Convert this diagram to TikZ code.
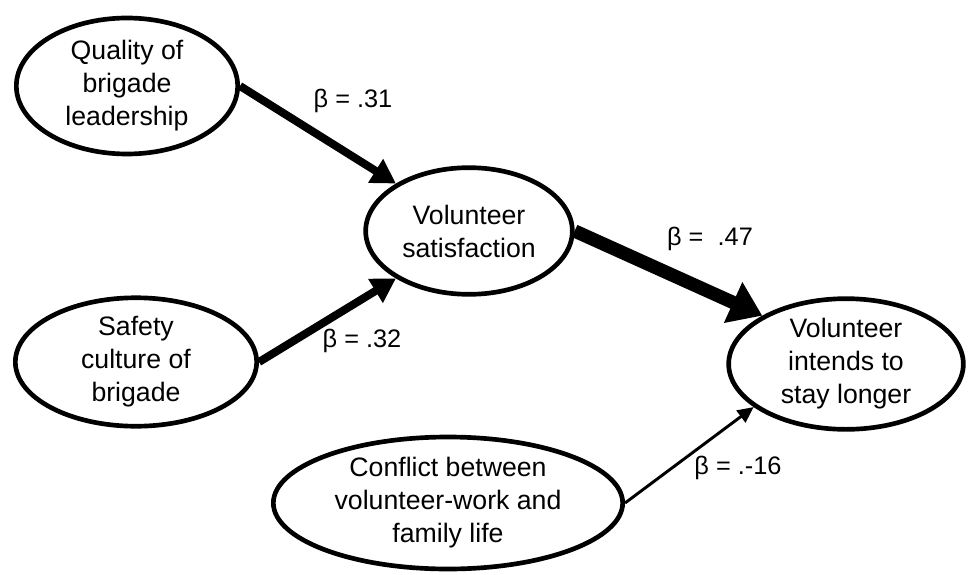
\documentclass[tikz,border=0pt]{standalone}
\usepackage{fontspec}
\setmainfont{Liberation Sans}
\usetikzlibrary{shapes.geometric,arrows.meta}

\tikzset{
	factor/.style={draw, ellipse, line width=3.5pt, inner sep=0pt, align=center,
		font=\fontsize{20}{24.75}\selectfont},
	beta/.style={font=\fontsize{19}{22}\selectfont, inner sep=0pt},
	path thick/.style={line width=6pt, -{Triangle[length=18pt,width=20pt]}},
	path heavy/.style={line width=10pt, -{Triangle[length=24pt,width=32pt]}},
	path thin/.style={line width=2.2pt, -{Triangle[length=12pt,width=11pt]}}}

\begin{document}
\begin{tikzpicture}[x=0.75pt,y=0.75pt,yscale=-1,xscale=1]
	\useasboundingbox (0,0) rectangle (973,574);

	%Shape: Ellipse [id:leadership]
	\node[factor, minimum width=166pt, minimum height=102pt] (leadership) at (127,86) {Quality of\\brigade\\leadership};
	%Shape: Ellipse [id:safety]
	\node[factor, minimum width=181pt, minimum height=95pt] (safety) at (136,362) {Safety\\culture of\\brigade};
	%Shape: Ellipse [id:satisfaction]
	\node[factor, minimum width=155pt, minimum height=95pt] (satisfaction) at (469,231) {Volunteer\\satisfaction};
	%Shape: Ellipse [id:intention]
	\node[factor, minimum width=176pt, minimum height=98pt] (intention) at (846,364) {Volunteer\\intends to\\stay longer};
	%Shape: Ellipse [id:conflict]
	\node[factor, minimum width=262pt, minimum height=99pt] (conflict) at (448,503) {Conflict between\\volunteer-work and\\family life};

	%Straight Lines [id:paths]
	\draw[path thick] (leadership.east) -- (satisfaction.147);
	\draw[path thick] (safety.east) -- (satisfaction.213);
	\draw[path heavy] (satisfaction.east) -- (intention.150);
	\draw[path thin] (conflict.east) -- (intention.205);

	% Text Node
	\node[beta] (b1) at (353,101) {β = .31};
	% Text Node
	\node[beta] (b2) at (362,341) {β = .32};
	% Text Node
	\node[beta] (b3) at (710,239) {β =~ .47};
	% Text Node
	\node[beta] (b4) at (738,468) {β = .-16};

\end{tikzpicture}
\end{document}
